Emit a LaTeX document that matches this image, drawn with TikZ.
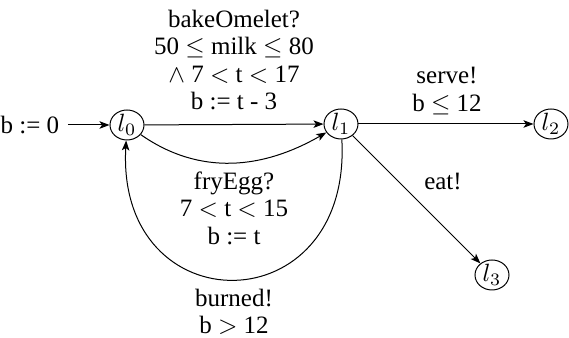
\documentclass[tikz,border=0pt]{standalone}
\usepackage{fontspec}
\setmainfont{LiberationSerif-Regular.ttf}[ItalicFont=LiberationSerif-Italic.ttf, BoldFont=LiberationSerif-Bold.ttf]
\usetikzlibrary{arrows.meta,shapes.geometric}

\begin{document}
\begin{tikzpicture}[
  x=0.4pt, y=-0.4pt,
  font=\rmfamily\fontsize{10}{11}\selectfont, >={Stealth[length=4pt,width=3pt,inset=1pt]},
  loc/.style={ellipse, draw, minimum width=13.6pt, minimum height=12pt, inner sep=0pt},
  guard/.style={align=center, inner sep=1pt},
]
  \useasboundingbox (0,0) rectangle (569,338);

  % locations
  \node[loc] (l0) at (127,125) {$l_0$};
  \node[loc] (l1) at (341,124) {$l_1$};
  \node[loc] (l2) at (551,124) {$l_2$};
  \node[loc] (l3) at (492,275) {$l_3$};

  % initial
  \node[anchor=east] (init) at (68,125) {b := 0};
  \draw[->] (init) -- (l0);

  % bakeOmelet
  \draw[->] (l0) -- (l1);
  \node[guard] (bake) at (234,60)
        {bakeOmelet?\\50 $\leq$ milk $\leq$ 80\\$\wedge$ 7 $<$ t $<$ 17\\b := t - 3};

  % fryEgg
  \draw[->] (l0) to[out=-35, in=-150] (l1);
  \node[guard] (fry) at (234,208) {fryEgg?\\7 $<$ t $<$ 15\\b := t};

  % burned
  \draw[->] (l1) .. controls (352,326) and (116,326) .. (l0);
  \node[guard] (burn) at (234,312) {burned!\\b $>$ 12};

  % serve, eat
  \draw[->] (l1) -- (l2);
  \node[guard] (serve) at (447,91) {serve!\\b $\leq$ 12};
  \draw[->] (l1) -- (l3);
  \node[guard] (eat) at (443,182) {eat!};
\end{tikzpicture}
\end{document}
